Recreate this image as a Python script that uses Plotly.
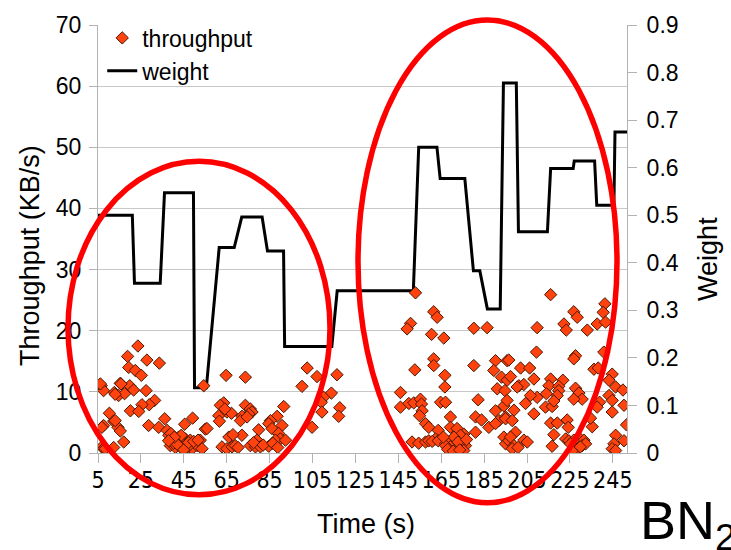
import plotly.graph_objects as go

# ---- weight (step profile, breakpoints of the line) ----
weight_time = [5, 21, 22, 34, 36, 49.5, 50, 55.5, 61.5, 68.5, 72, 81.5, 84, 91.5, 92,
               114, 116.5, 152, 154.5, 163, 164.5, 176, 180, 183, 186.5, 192.5, 194,
               200, 201, 214.5, 216, 226.5, 227, 236.5, 237.5, 245.5, 246, 251.6]
weight_value = [0.50, 0.50, 0.357, 0.357, 0.547, 0.547, 0.137, 0.137, 0.432, 0.432,
                0.496, 0.496, 0.425, 0.425, 0.224, 0.224, 0.341, 0.341, 0.643, 0.643,
                0.577, 0.577, 0.383, 0.383, 0.303, 0.303, 0.778, 0.778, 0.465, 0.465,
                0.598, 0.598, 0.614, 0.614, 0.521, 0.521, 0.675, 0.675]

# ---- throughput samples (time s, KB/s) ----
tp_time = [
    23.6, 18.8, 27.8, 33.6, 19.3, 22.4, 25.2, 6.5, 7.6, 15.4, 19.8, 21.6, 27.4, 12.6,
    14.6, 17.4, 31.4, 28.9, 25.5, 20.1, 24.0, 10.3, 12.3, 14.3, 15.4, 7.6, 6.8, 17.0,
    36.1, 28.6, 33.3, 45.4, 49.1, 37.2, 38.0, 39.5, 41.1, 42.6, 44.2, 45.7, 48.0, 50.4,
    52.7, 38.7, 41.1, 43.4, 45.7, 48.8, 51.2, 53.5, 6.8, 7.6, 55.0, 54.3,
    6.1, 8.4, 12.3, 13.0, 13.0, 15.7, 39.0, 40.2, 42.0, 43.8, 46.5, 47.2, 44.9, 40.6,
    37.9, 49.6,
    64.7, 73.7, 63.6, 62.0, 61.3, 61.6, 65.1, 67.2, 64.1, 73.7, 76.0, 76.8, 75.3, 72.1,
    71.4, 91.6, 88.5, 90.8, 85.4, 84.6, 86.1, 89.2, 90.0, 87.7, 92.4, 55.8, 51.6, 66.0,
    62.8, 65.1, 67.5, 69.0, 72.1, 79.9, 79.1, 76.0, 78.4, 80.7, 84.6, 102.5, 107.1,
    116.4, 100.1, 113.8, 110.2, 109.1, 109.4, 117.7, 117.2, 104.8,
    74.5, 77.5, 82.0, 86.5, 88.8, 70.3, 67.9,
    153.0, 161.5, 163.1, 150.7, 149.1, 160.5, 166.2, 180.2, 186.4, 161.5, 161.5, 152.7,
    166.7, 166.7, 180.2, 190.3, 195.7, 189.5, 193.1, 195.7, 191.1, 194.7, 146.0, 146.0,
    149.9, 152.2, 155.3, 155.8, 156.1, 154.9, 164.7, 167.0, 182.2, 194.2, 190.3, 191.9,
    195.0, 187.2, 190.3, 181.0, 183.8, 181.0, 169.3, 169.3, 172.4, 175.5, 174.8, 173.2,
    157.7, 159.2, 163.6, 162.3, 151.4, 154.5, 157.7, 159.2, 160.8, 163.6, 167.0, 168.5,
    170.1, 171.7, 173.2, 174.8, 176.3, 175.5, 171.7, 169.3, 167.0, 172.4, 174.0, 170.9,
    194.2, 195.0, 196.5, 168.0, 170.6, 172.8, 176.8, 166.0, 173.6,
    216.0, 226.8, 228.4, 241.3, 240.5, 237.7, 241.6, 222.2, 223.3, 233.1, 209.7, 209.4,
    227.6, 226.8, 196.5, 236.2, 238.2, 240.8, 202.0, 206.2, 197.3, 208.2, 216.0, 221.7,
    215.2, 219.8, 219.8, 219.1, 214.0, 209.7, 206.6, 204.3, 208.2, 201.2, 203.5, 200.4,
    244.7, 243.2, 246.3, 249.7, 227.6, 229.2, 230.7, 226.8, 243.2, 244.7, 238.8, 237.7,
    244.7, 250.2, 213.6, 216.7, 217.5, 195.7, 198.9, 195.0, 198.1, 199.6, 197.3, 198.9,
    198.1, 203.5, 205.1, 216.0, 219.1, 223.7, 224.2, 217.5, 223.0, 224.5, 226.8, 229.2,
    231.5, 230.7, 232.3, 225.3, 216.7, 235.4, 234.6, 246.3, 245.5, 244.7, 250.2, 251.4,
    246.3, 200.8, 228.0, 229.8, 226.0,
]
tp_value = [
    17.5, 15.8, 15.2, 14.7, 14.0, 13.5, 12.7, 11.0, 10.2, 11.4, 11.0, 10.3, 10.2, 9.9,
    9.4, 9.7, 8.6, 7.9, 7.9, 6.9, 6.8, 6.5, 5.2, 4.2, 3.6, 4.5, 4.2, 1.8,
    5.6, 4.5, 4.2, 4.7, 5.7, 3.7, 2.9, 2.3, 2.1, 2.6, 1.8, 2.3, 2.1, 1.5,
    2.1, 1.2, 0.9, 1.0, 1.2, 0.7, 1.2, 0.7, 1.0, 0.7, 3.9, 11.0,
    11.3, 0.7, 0.9, 5.3, 9.6, 11.3, 3.2, 1.6, 1.4, 2.9, 0.9, 1.7, 0.5, 2.6,
    2.0, 1.9,
    12.7, 12.4, 8.2, 7.8, 6.1, 5.2, 6.7, 6.5, 7.2, 7.8, 7.2, 6.7, 6.4, 6.0,
    5.3, 7.6, 6.0, 4.5, 5.3, 4.8, 4.0, 3.2, 2.3, 2.1, 2.1, 4.0, 2.1, 2.6,
    1.0, 0.7, 1.0, 1.2, 2.9, 3.8, 2.1, 1.2, 1.0, 1.0, 1.1, 13.9, 12.5,
    12.8, 10.9, 9.8, 9.1, 8.3, 6.7, 7.4, 6.0, 4.2,
    5.9, 1.7, 1.3, 1.6, 0.9, 0.9, 3.0,
    26.2, 23.1, 22.2, 21.2, 20.3, 19.4, 18.8, 20.4, 20.5, 15.4, 14.3, 13.6,
    12.7, 10.8, 14.3, 15.1, 15.1, 13.5, 12.4, 11.9, 10.5, 10.2, 9.9, 7.5,
    8.1, 8.2, 8.8, 8.0, 6.9, 6.1, 8.3, 8.3, 8.7, 7.7, 6.9, 5.3,
    5.9, 4.2, 4.8, 5.9, 5.4, 3.4, 5.9, 4.2, 4.0, 3.1, 2.6, 2.2,
    4.8, 4.2, 3.7, 2.3, 1.8, 1.6, 1.8, 2.0, 1.9, 2.0, 1.5, 1.8,
    1.2, 1.5, 1.0, 1.4, 1.2, 0.4, 0.7, 1.0, 1.2, 2.0, 2.9, 2.6,
    2.6, 1.5, 2.0, 0.6, 0.3, 1.8, 2.2, 2.6, 0.5,
    25.9, 23.1, 22.2, 24.4, 23.0, 21.1, 21.4, 21.1, 20.1, 20.1, 20.5, 16.5,
    15.9, 15.4, 15.2, 13.7, 13.9, 16.5, 13.9, 13.9, 12.5, 12.1, 12.1, 11.9,
    11.0, 10.9, 10.2, 9.4, 9.7, 9.1, 9.4, 8.1, 6.4, 11.0, 11.2, 10.8,
    12.9, 11.9, 10.8, 10.3, 10.6, 9.8, 8.8, 8.8, 9.4, 8.6, 8.3, 7.5,
    6.7, 7.8, 7.5, 7.6, 8.5, 8.6, 7.0, 5.6, 5.3, 3.4, 2.6, 1.2,
    0.7, 2.1, 1.8, 4.9, 4.9, 5.4, 4.2, 3.0, 2.3, 2.0, 2.1, 2.5,
    2.1, 1.2, 1.5, 1.5, 1.1, 4.3, 5.7, 2.9, 1.5, 0.7, 2.0, 4.6,
    0.4, 0.9, 0.6, 1.0, 0.3,
]

x_ticks = list(range(5, 246, 20))

FONT = "Liberation Sans, Arial, sans-serif"
NARROW = "Liberation Sans Narrow, Arial Narrow, DejaVu Sans Condensed, sans-serif"

W, H = 731, 550
L, R, T, B = 98, 104, 23, 97
PW, PH = W - L - R, H - T - B


def px(x):
    return (x - L) / PW


def py(y):
    return (H - B - y) / PH


def label(text, x, y, size, angle=0, xanchor="center"):
    return dict(text=text, x=px(x), y=py(y), xref="paper", yref="paper",
                xanchor=xanchor, yanchor="middle", textangle=angle,
                showarrow=False, font=dict(size=size))


fig = go.Figure()

fig.add_trace(go.Scatter(
    x=weight_time, y=weight_value, name="weight", mode="lines",
    line=dict(color="black", width=3), yaxis="y", legendrank=2,
))
fig.add_trace(go.Scatter(
    x=tp_time, y=tp_value, name="throughput", mode="markers",
    marker=dict(symbol="diamond", size=9.5, color="#ff420e",
                line=dict(color="#4a1800", width=1)),
    yaxis="y2", legendrank=1,
))

grey = "#b3b3b3"

fig.update_layout(
    width=W, height=H,
    margin=dict(l=L, r=R, t=T, b=B, pad=0),
    paper_bgcolor="white", plot_bgcolor="white",
    font=dict(family=FONT, size=23, color="black"),
    showlegend=True,
    legend=dict(x=0.008, y=1.02, xanchor="left", yanchor="top",
                bgcolor="rgba(0,0,0,0)", font=dict(size=23), tracegroupgap=0),
    xaxis=dict(range=[5, 251.6], tickvals=x_ticks, ticks="outside", ticklen=9,
               tickcolor=grey, showline=True, linecolor=grey, linewidth=1,
               showgrid=False, zeroline=False, ticklabelstandoff=-3,
               tickfont=dict(family=NARROW, size=23)),
    yaxis=dict(range=[0, 0.9], dtick=0.1, side="right", ticks="outside", ticklen=9,
               tickcolor=grey, showline=True, linecolor=grey, linewidth=1,
               showgrid=False, zeroline=False, ticklabelstandoff=5),
    yaxis2=dict(range=[0, 70], dtick=10, side="left", overlaying="y",
                ticks="outside", ticklen=8, tickcolor=grey, showline=True,
                linecolor=grey, linewidth=1, showgrid=True, gridcolor="#c8c8c8",
                gridwidth=1, zeroline=False, ticklabelstandoff=3),
    shapes=[
        dict(type="circle", xref="paper", yref="paper",
             x0=px(68), x1=px(330), y0=py(495), y1=py(160),
             line=dict(color="#ff0000", width=5.5), layer="above"),
        dict(type="circle", xref="paper", yref="paper",
             x0=px(358), x1=px(617), y0=py(503), y1=py(18),
             line=dict(color="#ff0000", width=5.5), layer="above"),
    ],
    annotations=[
        label("Throughput (KB/s)", 30, 255, 27, angle=-90),
        label("Weight", 708, 258, 27, angle=-90),
        label("Time (s)", 366, 524, 27),
        label("BN<sub>2</sub>", 638, 524, 54, xanchor="left"),
    ],
)

fig.write_html("out.html")
